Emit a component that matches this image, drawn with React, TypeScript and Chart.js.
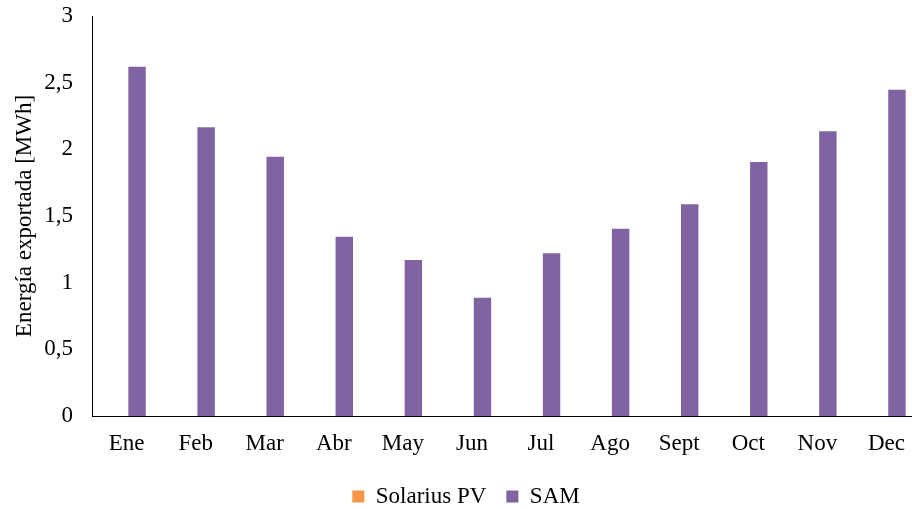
import { useEffect, useRef } from "react";
import { Chart, registerables } from "chart.js";

Chart.register(...registerables);

const months = ["Ene", "Feb", "Mar", "Abr", "May", "Jun", "Jul", "Ago", "Sept", "Oct", "Nov", "Dec"];
const solariusPV = [0, 0, 0, 0, 0, 0, 0, 0, 0, 0, 0, 0];
const sam = [2.62, 2.165, 1.945, 1.345, 1.17, 0.887, 1.22, 1.405, 1.588, 1.905, 2.135, 2.447];
const yTicks = [0, 0.5, 1, 1.5, 2, 2.5, 3];
const seriesNames = ["Solarius PV", "SAM"];
const yAxisTitle = "Energía exportada [MWh]";

const FONT = "'Liberation Serif', 'Times New Roman', serif";

export default function App() {
  const ref = useRef<HTMLCanvasElement>(null);

  useEffect(() => {
    if (!ref.current) return;
    const chart = new Chart(ref.current, {
      type: "bar",
      data: {
        labels: months,
        datasets: [
          {
            label: seriesNames[0],
            data: solariusPV,
            backgroundColor: "#F79646",
            categoryPercentage: 0.608,
            barPercentage: 0.83,
          },
          {
            label: seriesNames[1],
            data: sam,
            backgroundColor: "#8064A2",
            categoryPercentage: 0.608,
            barPercentage: 0.83,
          },
        ],
      },
      options: {
        responsive: false,
        animation: false,
        events: [],
        layout: { padding: { left: 11, top: 16, right: 0, bottom: 0 } },
        plugins: {
          legend: {
            position: "bottom",
            labels: {
              boxWidth: 12,
              boxHeight: 12,
              padding: 20,
              color: "#000",
              font: { family: FONT, size: 23 },
            },
          },
          tooltip: { enabled: false },
        },
        scales: {
          x: {
            grid: { display: false, drawTicks: false },
            border: { display: true, color: "#000", width: 1 },
            ticks: {
              padding: 14,
              color: "#000",
              font: { family: FONT, size: 23 },
              maxRotation: 0,
              autoSkip: false,
            },
            afterFit: (s: any) => {
              s.height = 49;
            },
          },
          y: {
            min: 0,
            max: 3,
            grid: { display: false, drawTicks: true, tickLength: 19 },
            border: { display: true, color: "#000", width: 1 },
            afterBuildTicks: (s: any) => {
              s.ticks = yTicks.map((v) => ({ value: v }));
            },
            ticks: {
              padding: 0,
              color: "#000",
              font: { family: FONT, size: 23 },
              callback: (v: any) => String(v).replace(".", ","),
            },
            title: {
              display: true,
              text: yAxisTitle,
              color: "#000",
              font: { family: FONT, size: 23 },
              padding: { top: 0, bottom: 0 },
            },
            afterFit: (s: any) => {
              s.width = 81;
            },
          },
        },
      },
    });
    return () => chart.destroy();
  }, []);

  return (
    <div
      style={{
        position: "fixed",
        left: 0,
        top: 0,
        width: 912,
        height: 509,
        overflow: "hidden",
        background: "#fff",
      }}
    >
      <canvas ref={ref} width={921} height={518} style={{ display: "block" }} />
    </div>
  );
}
